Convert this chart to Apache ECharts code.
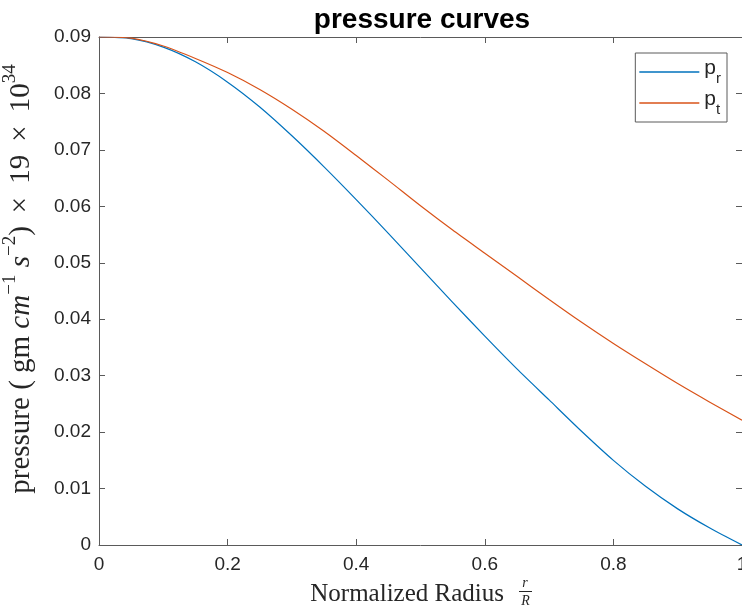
<!DOCTYPE html>
<html>
<head>
<meta charset="utf-8">
<title>pressure curves</title>
<script src="https://cdn.jsdelivr.net/npm/echarts@6/dist/echarts.min.js"></script>
<style>
  html, body { margin: 0; padding: 0; background: #ffffff; }
  #chart { width: 742px; height: 614px; }
</style>
</head>
<body>
<div id="chart"></div>
<script>
// Normalized radius r/R
const radius = [0, 0.05, 0.1, 0.15, 0.2, 0.25, 0.3, 0.35, 0.4, 0.45, 0.5,
                0.55, 0.6, 0.65, 0.7, 0.75, 0.8, 0.85, 0.9, 0.95, 1];

// Radial pressure p_r
const pRadial = [0.0900, 0.0897, 0.0882, 0.0856, 0.0820, 0.0776, 0.0725, 0.0670,
                 0.0612, 0.0552, 0.0491, 0.0430, 0.0370, 0.0312, 0.0257, 0.0202,
                 0.0150, 0.0104, 0.0064, 0.0030, 0.0000];

// Tangential pressure p_t
const pTangential = [0.0900, 0.0898, 0.0884, 0.0862, 0.0837, 0.0807, 0.0772, 0.0733,
                     0.0690, 0.0646, 0.0601, 0.0558, 0.0517, 0.0476, 0.0435, 0.0395,
                     0.0357, 0.0321, 0.0286, 0.0253, 0.0221];

const seriesNames = ['p_r', 'p_t'];
const seriesColors = ['#0072BD', '#D95319'];

const xTickLabels = ['0', '0.2', '0.4', '0.6', '0.8', '1'];
const yTickLabels = ['0', '0.01', '0.02', '0.03', '0.04', '0.05', '0.06', '0.07', '0.08', '0.09'];

const textColor = '#262626';
const lineColor = '#5a5a5a';
const sansFont = '"Liberation Sans", Arial, Helvetica, sans-serif';
const serifFont = '"Liberation Serif", "DejaVu Serif", "Times New Roman", serif';

const chart = echarts.init(document.getElementById('chart'), null, { renderer: 'canvas' });

// Axes drawn as a closed box: labelled bottom/left, mirrored ticks on top/right
function boxAxis(extra) {
  return Object.assign({
    type: 'value',
    axisLine: { show: true, onZero: false, lineStyle: { color: lineColor, width: 1 } },
    axisTick: { show: true, inside: true, length: 6, lineStyle: { color: lineColor, width: 1 } },
    splitLine: { show: false },
    axisLabel: { show: false }
  }, extra);
}

const labelStyle = { show: true, fontFamily: sansFont, fontSize: 19, color: textColor };
const thin = '\u2009';

const option = {
  animation: false,
  backgroundColor: '#ffffff',
  title: {
    text: 'pressure curves',
    left: 417,
    top: 1,
    textAlign: 'center',
    textStyle: { fontFamily: sansFont, fontWeight: 'bold', fontSize: 28, color: '#000000' }
  },
  grid: { left: 99, right: 0, top: 37, bottom: 69, containLabel: false, outerBoundsMode: 'none' },
  xAxis: [
    boxAxis({
      min: 0, max: 1, interval: 0.2, position: 'bottom',
      axisLabel: Object.assign({}, labelStyle, {
        margin: 10,
        formatter: (v) => xTickLabels[Math.round(v / 0.2)]
      })
    }),
    boxAxis({ min: 0, max: 1, interval: 0.2, position: 'top' })
  ],
  yAxis: [
    boxAxis({
      min: 0, max: 0.09, interval: 0.01, position: 'left',
      name: '{n|pressure ( gm }{i|cm}{sup|\u22121}{n| }{i|s}{sup|\u22122}{n|)' + thin + ' \u00d7 ' + thin + '19' + thin + ' \u00d7 ' + thin + '10}{sup|34}',
      nameLocation: 'middle',
      nameRotate: 90,
      nameGap: 63,
      nameTextStyle: {
        padding: [0, 0, 0, 24],
        rich: {
          n: { fontFamily: serifFont, fontSize: 29, color: textColor, lineHeight: 35, verticalAlign: 'bottom' },
          i: { fontFamily: serifFont, fontStyle: 'italic', fontSize: 29, color: textColor, lineHeight: 35, verticalAlign: 'bottom' },
          sup: { fontFamily: serifFont, fontSize: 19, color: textColor, lineHeight: 35, verticalAlign: 'top' }
        }
      },
      axisLabel: Object.assign({}, labelStyle, {
        margin: 8,
        formatter: (v) => yTickLabels[Math.round(v / 0.01)]
      })
    }),
    boxAxis({ min: 0, max: 0.09, interval: 0.01, position: 'right' })
  ],
  legend: {
    orient: 'vertical',
    right: 15,
    top: 53,
    data: seriesNames,
    selectedMode: false,
    icon: 'rect',
    backgroundColor: '#ffffff',
    borderColor: lineColor,
    borderWidth: 1,
    borderRadius: 0,
    padding: [5, 6, 5, 4],
    itemWidth: 60,
    itemHeight: 1.5,
    itemGap: 3,
    formatter: (name) => '{b|p}{s|' + name.split('_')[1] + '}',
    textStyle: {
      rich: {
        b: { fontFamily: sansFont, fontSize: 21, color: textColor, lineHeight: 22, verticalAlign: 'top' },
        s: { fontFamily: sansFont, fontSize: 15, color: textColor, lineHeight: 28, verticalAlign: 'bottom' }
      }
    }
  },
  graphic: [
    {
      type: 'text',
      x: 504, y: 594,
      style: {
        text: 'Normalized Radius',
        font: '25px ' + serifFont,
        fill: textColor,
        align: 'right',
        verticalAlign: 'middle'
      }
    },
    {
      type: 'text',
      x: 525, y: 583,
      style: { text: 'r', font: 'italic 14px ' + serifFont, fill: textColor, align: 'center', verticalAlign: 'middle' }
    },
    {
      type: 'line',
      shape: { x1: 519, y1: 591.5, x2: 532, y2: 591.5 },
      style: { stroke: textColor, lineWidth: 1 }
    },
    {
      type: 'text',
      x: 525.5, y: 601,
      style: { text: 'R', font: 'italic 14px ' + serifFont, fill: textColor, align: 'center', verticalAlign: 'middle' }
    }
  ],
  series: [
    {
      name: seriesNames[0],
      type: 'line',
      xAxisIndex: 0, yAxisIndex: 0,
      data: radius.map((r, i) => [r, pRadial[i]]),
      symbol: 'none',
      smooth: 0.25,
      color: seriesColors[0],
      lineStyle: { color: seriesColors[0], width: 1.2 }
    },
    {
      name: seriesNames[1],
      type: 'line',
      xAxisIndex: 0, yAxisIndex: 0,
      data: radius.map((r, i) => [r, pTangential[i]]),
      symbol: 'none',
      smooth: 0.25,
      color: seriesColors[1],
      lineStyle: { color: seriesColors[1], width: 1.2 }
    }
  ]
};

chart.setOption(option);
</script>
</body>
</html>
